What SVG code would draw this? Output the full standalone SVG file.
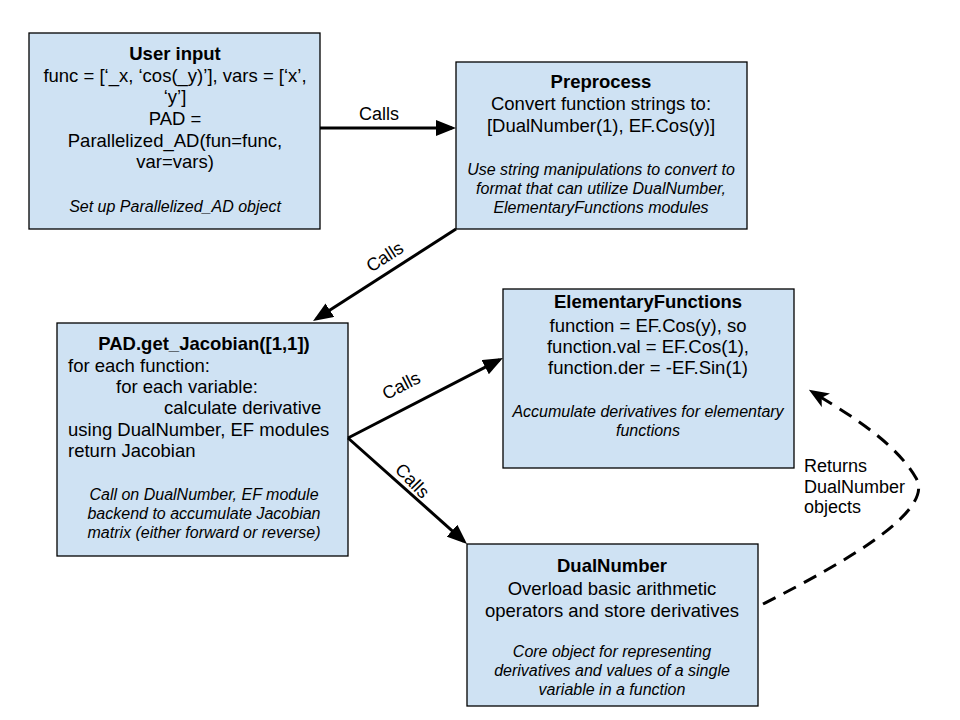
<svg xmlns="http://www.w3.org/2000/svg" width="960" height="720" viewBox="0 0 960 720">
<defs>
<style>
.box{fill:#cfe2f3;stroke:#000;stroke-width:1.3}
text{font-family:"Liberation Sans",Arial,sans-serif;fill:#000}
.t{font-size:18.5px}
.l{font-size:18px}
.b{font-weight:bold}
.i{font-size:16px;font-style:italic}
.c{text-anchor:middle}
.ln{stroke:#000;stroke-width:3;fill:none}
.dash{stroke:#000;stroke-width:3;fill:none;stroke-dasharray:14 9}
</style>
<marker id="ah" viewBox="0 0 20 16" refX="16" refY="8" markerWidth="20" markerHeight="16" markerUnits="userSpaceOnUse" orient="auto">
<path d="M0,0 L20,8 L0,16 z" fill="#000"/>
</marker>
<marker id="ahd" viewBox="0 0 20 16" refX="14" refY="8" markerWidth="20" markerHeight="16" markerUnits="userSpaceOnUse" orient="auto">
<path d="M0,0 L20,8 L0,16 L5,8 z" fill="#000"/>
</marker>
</defs>
<rect width="960" height="720" fill="#fff"/>

<g id="user-input">
<rect class="box" x="29" y="33" width="291" height="196"/>
<text class="t b c" x="175" y="60">User input</text>
<text class="t c" x="175" y="82">func = [‘_x, ‘cos(_y)’], vars = [‘x’,</text>
<text class="t c" x="175" y="103">‘y’]</text>
<text class="t c" x="175" y="125">PAD =</text>
<text class="t c" x="175" y="147">Parallelized_AD(fun=func,</text>
<text class="t c" x="175" y="168">var=vars)</text>
<text class="i c" x="175" y="212">Set up Parallelized_AD object</text>
</g>

<g id="preprocess">
<rect class="box" x="456" y="62" width="291" height="167"/>
<text class="t b c" x="601" y="88">Preprocess</text>
<text class="t c" x="601" y="110">Convert function strings to:</text>
<text class="t c" x="601" y="132">[DualNumber(1), EF.Cos(y)]</text>
<text class="i c" x="601" y="175">Use string manipulations to convert to</text>
<text class="i c" x="601" y="194">format that can utilize DualNumber,</text>
<text class="i c" x="601" y="213">ElementaryFunctions modules</text>
</g>

<g id="get-jacobian">
<rect class="box" x="57" y="323" width="291" height="233"/>
<text class="t b c" x="204" y="350">PAD.get_Jacobian([1,1])</text>
<text class="t" x="68" y="372">for each function:</text>
<text class="t" x="116" y="393">for each variable:</text>
<text class="t" x="164" y="414">calculate derivative</text>
<text class="t" x="68" y="436">using DualNumber, EF modules</text>
<text class="t" x="68" y="457">return Jacobian</text>
<text class="i c" x="204" y="500">Call on DualNumber, EF module</text>
<text class="i c" x="204" y="519">backend to accumulate Jacobian</text>
<text class="i c" x="204" y="538">matrix (either forward or reverse)</text>
</g>

<g id="elementary-functions">
<rect class="box" x="503" y="289" width="291" height="179"/>
<text class="t b c" x="648" y="308">ElementaryFunctions</text>
<text class="t c" x="648" y="332">function = EF.Cos(y), so</text>
<text class="t c" x="648" y="353">function.val = EF.Cos(1),</text>
<text class="t c" x="648" y="374">function.der = -EF.Sin(1)</text>
<text class="i c" x="648" y="417">Accumulate derivatives for elementary</text>
<text class="i c" x="648" y="436">functions</text>
</g>

<g id="dual-number">
<rect class="box" x="467" y="544" width="291" height="162"/>
<text class="t b c" x="612" y="572">DualNumber</text>
<text class="t c" x="612" y="595">Overload basic arithmetic</text>
<text class="t c" x="612" y="617">operators and store derivatives</text>
<text class="i c" x="612" y="657">Core object for representing</text>
<text class="i c" x="612" y="676">derivatives and values of a single</text>
<text class="i c" x="612" y="695">variable in a function</text>
</g>

<g id="connectors">
<line class="ln" x1="320" y1="128" x2="452" y2="128" marker-end="url(#ah)"/>
<text class="l c" x="379" y="120">Calls</text>

<line class="ln" x1="456" y1="229" x2="316.4" y2="318.8" marker-end="url(#ah)"/>
<text class="l c" transform="translate(388,262) rotate(-32.5)">Calls</text>

<line class="ln" x1="348" y1="438" x2="499.4" y2="359.8" marker-end="url(#ah)"/>
<text class="l c" transform="translate(404,391) rotate(-27.3)">Calls</text>

<line class="ln" x1="348" y1="438" x2="464" y2="541.3" marker-end="url(#ah)"/>
<text class="l c" transform="translate(408,485) rotate(46)">Calls</text>

<path class="dash" d="M763,604 C850,560 935,510 916,478 C895,442 850,415 814,393" marker-end="url(#ahd)"/>
<text class="l" x="804" y="472">Returns</text>
<text class="l" x="804" y="493">DualNumber</text>
<text class="l" x="804" y="513">objects</text>
</g>
</svg>
